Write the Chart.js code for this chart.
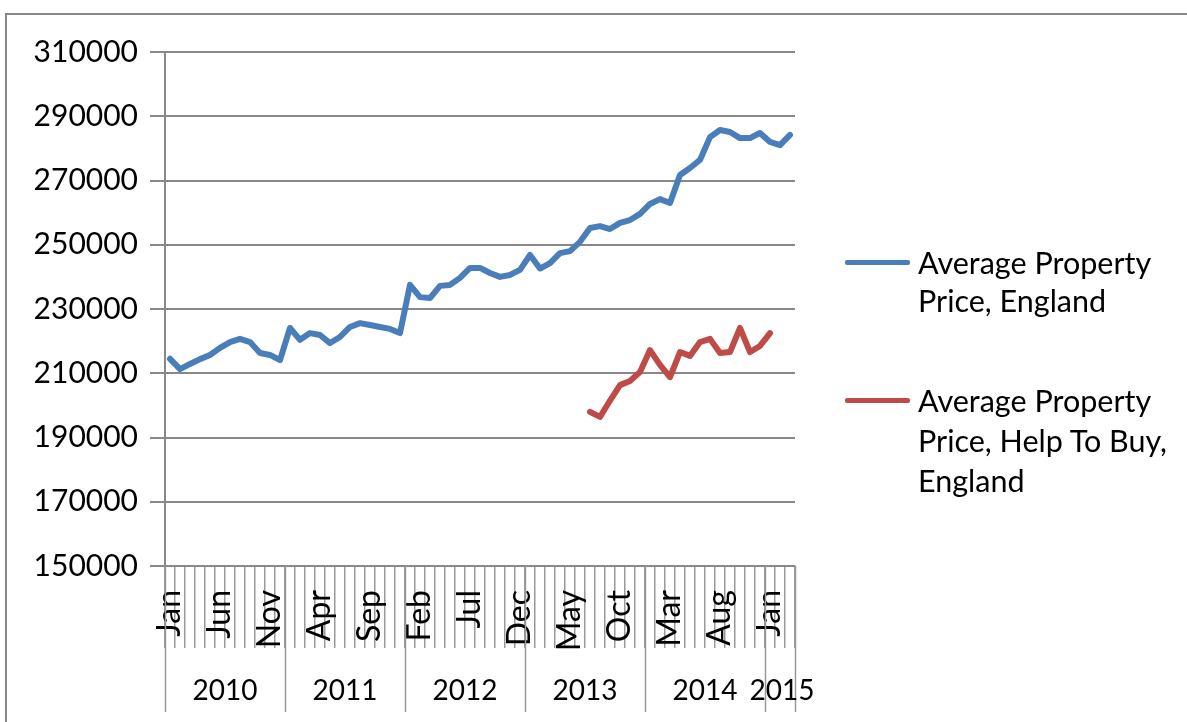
<!DOCTYPE html>
<html>
<head>
<meta charset="utf-8">
<script src="https://cdn.jsdelivr.net/npm/chart.js@4"></script>
<style>
  body { margin: 0; background: #fff; }
  #wrap { position: relative; width: 1187px; height: 722px; overflow: hidden; }
  #frame { position: absolute; left: 5px; top: 13px; width: 1300px; height: 800px;
           border-top: 2px solid #888; border-left: 2px solid #888; }
  canvas { position: absolute; left: 0; top: 0; }
  .leg-line { position: absolute; height: 5px; width: 65px; border-radius: 2px; }
  .leg-text { position: absolute; width: 270px; font-family: Lato, sans-serif; font-size: 30.5px; color: #000; }
</style>
</head>
<body>
<div id="wrap">
  <div id="frame"></div>
  <canvas id="myChart" width="1187" height="722"></canvas>
  <div id="legend"></div>
</div>
<script>
// category axis: Jan 2010 .. Mar 2015
const monthNames = ['Jan', 'Feb', 'Mar', 'Apr', 'May', 'Jun', 'Jul', 'Aug', 'Sep', 'Oct', 'Nov', 'Dec'];
const years = ['2010', '2011', '2012', '2013', '2014', '2015'];
const yearMonths = [12, 12, 12, 12, 12, 3];

const months = [];
for (let y = 0; y < years.length; y++) {
    for (let m = 0; m < yearMonths[y]; m++) months.push(monthNames[m]);
}

const seriesNames = ['Average Property Price, England', 'Average Property Price, Help To Buy, England'];

const avgPrice = [
    214500, 211300, 212900, 214400, 215700, 217900, 219700, 220700, 219700, 216300, 215700, 214100,
    224100, 220400, 222500, 221900, 219400, 221300, 224400, 225600, 225000, 224400, 223800, 222500,
    237500, 233700, 233400, 237200, 237500, 239700, 242800, 242800, 241200, 240000, 240600, 242200,
    246800, 242600, 244300, 247400, 248000, 250900, 255200, 255800, 254900, 256800, 257700, 259600,
    262700, 264200, 263000, 271700, 273900, 276400, 283500, 285700, 285100, 283200, 283200, 284800,
    282000, 281000, 284200
];

const helpToBuy = [
    null, null, null, null, null, null, null, null, null, null, null, null,
    null, null, null, null, null, null, null, null, null, null, null, null,
    null, null, null, null, null, null, null, null, null, null, null, null,
    null, null, null, null, null, null, 198000, 196400, 201500, 206300, 207600, 210400,
    217200, 212600, 208800, 216600, 215400, 219700, 220700, 216300, 216600, 224100, 216600, 218500,
    222500, null, null
];

const yMin = 150000, yMax = 310000, yStep = 20000;
const colors = ['#4A7EBB', '#BE4B48'];

Chart.defaults.font.family = 'Lato, sans-serif';
Chart.defaults.font.size = 30;
Chart.defaults.color = '#000';

// year row under the month labels
const yearRow = {
    id: 'yearRow',
    afterDraw(chart) {
        const xs = chart.scales.x;
        const ctx = chart.ctx;
        const step = (xs.right - xs.left) / months.length;
        const top = xs.top;
        const bottom = top + 146;
        ctx.save();
        ctx.strokeStyle = '#999';
        ctx.lineWidth = 1.5;
        let start = 0;
        for (let y = 0; y <= years.length; y++) {
            const px = Math.round(xs.left + start * step) + 0.5;
            ctx.beginPath();
            ctx.moveTo(px, top);
            ctx.lineTo(px, bottom);
            ctx.stroke();
            if (y < years.length) start += yearMonths[y];
        }
        ctx.fillStyle = '#000';
        ctx.font = '28px Lato, sans-serif';
        ctx.textAlign = 'center';
        ctx.textBaseline = 'middle';
        start = 0;
        for (let y = 0; y < years.length; y++) {
            let cx = xs.left + (start + yearMonths[y] / 2) * step;
            if (yearMonths[y] < 12) cx += 2;
            ctx.fillText(years[y], cx, top + 125);
            start += yearMonths[y];
        }
        ctx.restore();
    }
};

const ctx = document.getElementById('myChart');
new Chart(ctx, {
    type: 'line',
    data: {
        labels: months,
        datasets: [{
            label: seriesNames[0],
            data: avgPrice,
            borderColor: colors[0],
            backgroundColor: colors[0],
            borderWidth: 6,
            pointRadius: 0,
            borderJoinStyle: 'round',
            borderCapStyle: 'round',
            tension: 0
        }, {
            label: seriesNames[1],
            data: helpToBuy,
            borderColor: colors[1],
            backgroundColor: colors[1],
            borderWidth: 6,
            pointRadius: 0,
            borderJoinStyle: 'round',
            borderCapStyle: 'round',
            tension: 0
        }]
    },
    options: {
        responsive: false,
        animation: false,
        devicePixelRatio: 1,
        layout: { padding: { top: 52, left: 0, right: 392, bottom: 0 } },
        plugins: { legend: { display: false }, tooltip: { enabled: false } },
        scales: {
            x: {
                offset: true,
                grid: { offset: true, drawOnChartArea: false, tickLength: 82, color: '#999', lineWidth: 1.5 },
                border: { color: '#888', width: 2 },
                ticks: {
                    autoSkip: false,
                    minRotation: 90,
                    maxRotation: 90,
                    padding: -58,
                    font: { size: 32 },
                    callback: (v, i) => (i % 5 === 0 ? months[i] : '')
                },
                afterFit: (s) => { s.height = 156; }
            },
            y: {
                min: yMin,
                max: yMax,
                ticks: { stepSize: yStep, padding: 12, callback: (v) => String(v) },
                grid: { color: '#888', lineWidth: 2, tickLength: 15 },
                border: { color: '#888', width: 2 },
                afterFit: (s) => { s.width = 165; }
            }
        }
    },
    plugins: [yearRow]
});

// legend at the right, text wraps like the original
const legendTops = [243, 380];
const legendLineHeights = [38, 40];
const legend = document.getElementById('legend');
seriesNames.forEach((name, i) => {
    const line = document.createElement('div');
    line.className = 'leg-line';
    line.style.left = '845px';
    line.style.top = (legendTops[i] + legendLineHeights[i] / 2 - 2) + 'px';
    line.style.background = colors[i];
    legend.appendChild(line);
    const text = document.createElement('div');
    text.className = 'leg-text';
    text.style.left = '918px';
    text.style.top = legendTops[i] + 'px';
    text.style.lineHeight = legendLineHeights[i] + 'px';
    text.innerText = name;
    legend.appendChild(text);
});
</script>
</body>
</html>
